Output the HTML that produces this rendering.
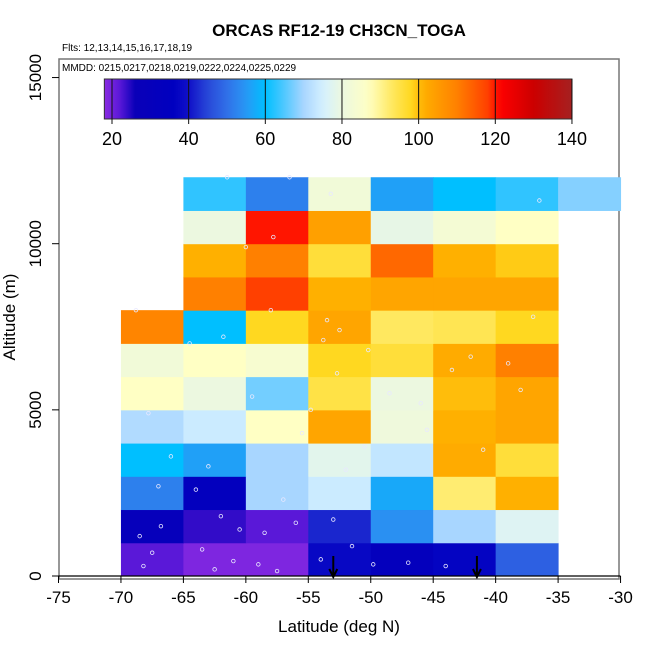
<!DOCTYPE html>
<html><head><meta charset="utf-8"><style>
body{margin:0;background:#fff}
svg{display:block;font-family:"Liberation Sans",sans-serif}
</style></head><body>
<svg id="chart" width="650" height="650" viewBox="0 0 650 650">
<defs><linearGradient id="cbgrad" x1="0" x2="1" y1="0" y2="0"></linearGradient></defs>
<text x="339" y="36" font-size="17" font-weight="bold" text-anchor="middle">ORCAS RF12-19 CH3CN_TOGA</text>
<text x="62" y="51" font-size="10">Flts: 12,13,14,15,16,17,18,19</text>
<rect x="59" y="59" width="560" height="520" fill="none" stroke="#777" stroke-width="1.5"/>
<text x="62" y="71" font-size="10">MMDD: 0215,0217,0218,0219,0222,0224,0225,0229</text>
<g id="cells"></g>
<g id="pts"></g>
<g id="colorbar"></g>
<g id="axes"></g>
<text x="339" y="632" font-size="17" text-anchor="middle">Latitude (deg N)</text>
<text transform="translate(15,317) rotate(-90)" font-size="17" text-anchor="middle">Altitude (m)</text>
</svg>
<script>
const latBins=[-70,-65,-60,-55,-50,-45,-40,-35];
const altBins=[0,1000,2000,3000,4000,5000,6000,7000,8000,9000,10000,11000];
// values[row = altitude bin][col = latitude bin]; null = no data
const values=[
[22,19,19,38,32,37,48,null],
[30,24,22,42,54,70,77,null],
[52,33,70,74,57,92,101,null],
[60,56,70,78,73,102,96,null],
[71,74,87,103,81,101,103,null],
[87,80,67,95,80,100,103,null],
[82,87,84,98,96,102,110,null],
[109,60,98,103,93,94,98,null],
[null,110,118,101,103,103,103,null],
[null,101,110,96,113,101,99,null],
[null,80,120,104,79,83,87,null],
[null,63,52,82,56,60,63,68]
];
const xTicks=[-75,-70,-65,-60,-55,-50,-45,-40,-35,-30];
const yTicks=[0,5000,10000,15000];
const cbTicks=[20,40,60,80,100,120,140];
const arrowLats=[-53,-41.5];
const ptLat=[-68.2,-67.5,-66.8,-68.5,-67,-62.5,-61,-63.5,-59,-57.5,-58.5,-56,-62,-60.5,-57,-64,-53,-51.5,-54,-52,-50.5,-49.8,-53.5,-52.5,-47,-44,-46,-42,-38,-37,-43.5,-36.5,-61.5,-56.5,-58,-53.8,-50.2,-55.5,-63,-66,-59.5,-48.5,-45.5,-41,-39,-64.5,-60,-52.7,-54.8,-67.8,-68.8,-61.8,-57.8,-53.2];
const ptAlt=[300,700,1500,1200,2700,200,450,800,350,150,1300,1600,1800,1400,2300,2600,1700,900,500,3200,3900,350,7700,7400,400,300,5200,6600,5600,7800,6200,11300,12000,12000,8000,7100,6800,4300,3300,3600,5400,5500,4400,3800,6400,7000,9900,6100,5000,4900,8000,7200,10200,11500];
const X=v=>58.5+(v+75)*12.49;
const Y=v=>576-v*0.03323;
const stops=[[18,[138,43,226]],[22,[90,24,216]],[26,[10,0,184]],[36,[0,0,192]],[40,[16,16,200]],[45,[40,72,216]],[50,[48,112,232]],[55,[40,152,245]],[60,[0,191,255]],[65,[80,200,255]],[70,[168,214,255]],[75,[212,240,255]],[80,[236,248,224]],[87,[255,255,196]],[93,[255,232,96]],[98,[255,216,32]],[101,[255,176,0]],[110,[255,128,0]],[118,[255,64,0]],[121,[255,0,0]],[130,[204,0,0]],[140,[165,32,32]]];
function col(v){v=Math.max(18,Math.min(140,v));for(let i=1;i<stops.length;i++){if(v<=stops[i][0]){const a=stops[i-1],b=stops[i],t=(v-a[0])/(b[0]-a[0]);const c=a[1].map((x,k)=>Math.round(x+(b[1][k]-x)*t));return `rgb(${c})`;}}return 'rgb(165,32,32)';}
const NS='http://www.w3.org/2000/svg';
function mk(t,a,p){const e=document.createElementNS(NS,t);for(const k in a)e.setAttribute(k,a[k]);p.appendChild(e);return e;}
const cells=document.getElementById('cells');
values.forEach((row,r)=>row.forEach((v,c)=>{if(v===null)return;
const x0=X(latBins[c]),x1=X(latBins[c]+5),y0=Y(altBins[r]+1000),y1=Y(altBins[r]);
const e=mk('rect',{x:x0,y:y0,width:x1-x0+0.5,height:y1-y0+0.5,fill:col(v)},cells);

}));
const pts=document.getElementById('pts');
ptLat.forEach((la,i)=>{const e=mk('circle',{cx:X(la),cy:Y(ptAlt[i]),r:1.8,fill:'none',stroke:'#e8e8ff','stroke-width':0.8},pts);

});
// colorbar
const cb=document.getElementById('colorbar');
const CX=v=>112+(v-20)*3.833;
const g=document.getElementById('cbgrad');
for(let v=18;v<=140;v+=2){mk('stop',{offset:((v-18)/122),'stop-color':col(v)},g);}
const bar=mk('rect',{x:CX(18),y:79,width:CX(140)-CX(18),height:40,fill:'url(#cbgrad)',stroke:'#333','stroke-width':1},cb);


cbTicks.forEach(t=>{mk('line',{x1:CX(t),x2:CX(t),y1:79,y2:124,stroke:'#111','stroke-width':1},cb);
const e=mk('text',{x:CX(t),y:145,'font-size':18,'text-anchor':'middle'},cb);e.textContent=t;

});
// axes
const ax=document.getElementById('axes');
mk('line',{x1:X(-75),x2:X(-30),y1:576,y2:576,stroke:'#000','stroke-width':1.2},ax);
xTicks.forEach(t=>{mk('line',{x1:X(t),x2:X(t),y1:576,y2:583,stroke:'#000'},ax);
const e=mk('text',{x:X(t),y:603,'font-size':17,'text-anchor':'middle'},ax);e.textContent=t;

});
yTicks.forEach(t=>{mk('line',{x1:52,x2:59,y1:Y(t),y2:Y(t),stroke:'#000'},ax);
const e=mk('text',{transform:`translate(41,${Y(t)}) rotate(-90)`,'font-size':17,'text-anchor':'middle'},ax);e.textContent=t;

});
arrowLats.forEach(la=>{const x=X(la);
const e=mk('path',{d:`M${x},556 L${x},576 M${x-4},569 L${x},577 L${x+4},569`,stroke:'#000','stroke-width':2,fill:'none'},ax);

});
</script>
</body></html>
